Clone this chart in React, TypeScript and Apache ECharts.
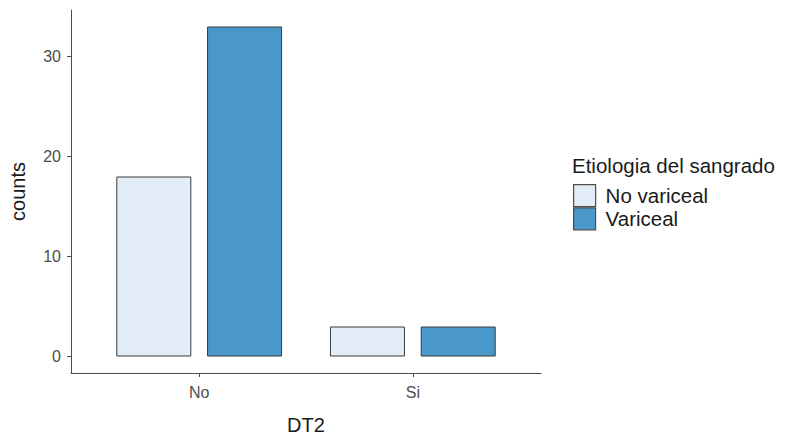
import React, { useEffect, useRef } from "react";
import * as echarts from "echarts";

const categories = ["No", "Si"];
const seriesNames = ["No variceal", "Variceal"];
const noVariceal = [18, 3];
const variceal = [33, 3];
const yTicks = [0, 10, 20, 30];
const xPositions = [1, 2];

const FONT = "'Liberation Sans', Arial, Helvetica, sans-serif";

export default function App() {
  const ref = useRef<HTMLDivElement>(null);
  useEffect(() => {
    if (!ref.current) return;
    const chart = echarts.init(ref.current, null, { renderer: "svg" });
    const border = { borderColor: "#3a3a3a", borderWidth: 1 };
    chart.setOption({
      animation: false,
      backgroundColor: "#ffffff",
      textStyle: { fontFamily: FONT },
      grid: {
        left: 71,
        top: 10,
        right: 244,
        bottom: 62,
        containLabel: false,
        outerBoundsMode: "none",
      },
      title: {
        text: "Etiologia del sangrado",
        left: 572,
        top: 155,
        padding: 0,
        textStyle: { fontFamily: FONT, fontSize: 20.5, fontWeight: "normal", color: "#1a1a1a" },
      },
      legend: {
        data: seriesNames,
        orient: "vertical",
        left: 573,
        top: 184,
        padding: 0,
        itemWidth: 22,
        itemHeight: 22,
        itemGap: 0,
        icon: "rect",
        itemStyle: { borderColor: "#4d4d4d", borderWidth: 1.2 },
        textStyle: { fontFamily: FONT, fontSize: 20.5, color: "#1a1a1a", padding: [0, 0, 0, 5] },
      },
      xAxis: {
        type: "value",
        min: 0.4,
        max: 2.6,
        name: "DT2",
        nameLocation: "middle",
        nameGap: 42,
        nameTextStyle: { fontFamily: FONT, fontSize: 20, color: "#1a1a1a" },
        axisLine: { show: true, onZero: false, lineStyle: { color: "#4d4d4d", width: 1 } },
        axisTick: { show: true, length: 4, customValues: xPositions, lineStyle: { color: "#4d4d4d" } },
        axisLabel: {
          customValues: xPositions,
          formatter: (v: number) => categories[Math.round(v) - 1] ?? "",
          fontFamily: FONT,
          fontSize: 16,
          color: "#4d4d4d",
          margin: 11,
        },
        splitLine: { show: false },
      },
      yAxis: {
        type: "value",
        min: -1.65,
        max: 34.65,
        name: "counts",
        nameLocation: "middle",
        nameGap: 43,
        nameTextStyle: { fontFamily: FONT, fontSize: 20, color: "#1a1a1a" },
        axisLine: { show: true, onZero: false, lineStyle: { color: "#4d4d4d", width: 1 } },
        axisTick: { show: true, length: 4, customValues: yTicks, lineStyle: { color: "#4d4d4d" } },
        axisLabel: {
          customValues: yTicks,
          fontFamily: FONT,
          fontSize: 16,
          color: "#4d4d4d",
          margin: 10,
        },
        splitLine: { show: false },
      },
      series: [
        {
          name: seriesNames[0],
          type: "bar",
          data: xPositions.map((x, i) => [x, noVariceal[i]]),
          barWidth: 75,
          barGap: "21%",
          itemStyle: { color: "#e3edf7", ...border },
        },
        {
          name: seriesNames[1],
          type: "bar",
          data: xPositions.map((x, i) => [x, variceal[i]]),
          barWidth: 75,
          barGap: "21%",
          itemStyle: { color: "#4a97c9", ...border },
        },
      ],
    });
    return () => chart.dispose();
  }, []);
  return (
    <div
      ref={ref}
      style={{ position: "absolute", left: 0, top: 0, width: 785, height: 435 }}
    />
  );
}
